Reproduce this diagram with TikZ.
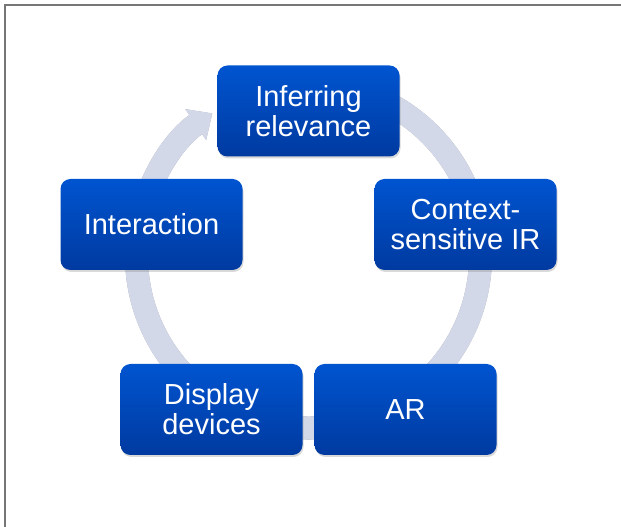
\documentclass[tikz,border=0pt]{standalone}
\usepackage{fontspec}
\setmainfont{Liberation Sans}
\usetikzlibrary{arrows.meta,shadows}

\definecolor{boxtop}{RGB}{0,84,208}
\definecolor{boxbot}{RGB}{0,58,160}
\definecolor{ringfill}{RGB}{211,216,232}
\definecolor{ringedge}{RGB}{160,163,176}
\definecolor{framegray}{RGB}{118,118,118}

\begin{document}
\begin{tikzpicture}[x=1pt, y=1pt,
    stagebox/.style={rounded corners=10pt, minimum width=182pt, minimum height=91pt,
        top color=boxtop, bottom color=boxbot, text=white, align=center,
        font=\fontsize{29}{30}\selectfont,
        drop shadow={shadow xshift=1pt, shadow yshift=-2pt, opacity=0.3}},
    ringband/.style={line width=23pt, -{Triangle[width=36pt,length=20pt]}}]

    \clip (0,0) rectangle (621,527);

    % Frame
    \draw[framegray, line width=1.5pt] (5,-20) -- (5,522) -- (650,522);

    % Cycle ring
    \coordinate (ringc) at (308.5,271);
    \begin{scope}[xshift=-1.2pt]
        \draw[ringband, ringedge] (ringc) ++(80:172) arc[start angle=80, end angle=-236, radius=172];
    \end{scope}
    \draw[ringband, ringfill] (ringc) ++(80:172) arc[start angle=80, end angle=-236, radius=172];

    % Stages
    \node[stagebox] (infer) at (308.5,416) {Inferring\\relevance};
    \node[stagebox] (context) at (465.5,302.5) {Context-\\sensitive IR};
    \node[stagebox] (ar) at (405.5,117.5) {AR};
    \node[stagebox] (display) at (211.5,117.5) {Display\\devices};
    \node[stagebox] (interact) at (151.5,302.5) {Interaction};
\end{tikzpicture}
\end{document}
